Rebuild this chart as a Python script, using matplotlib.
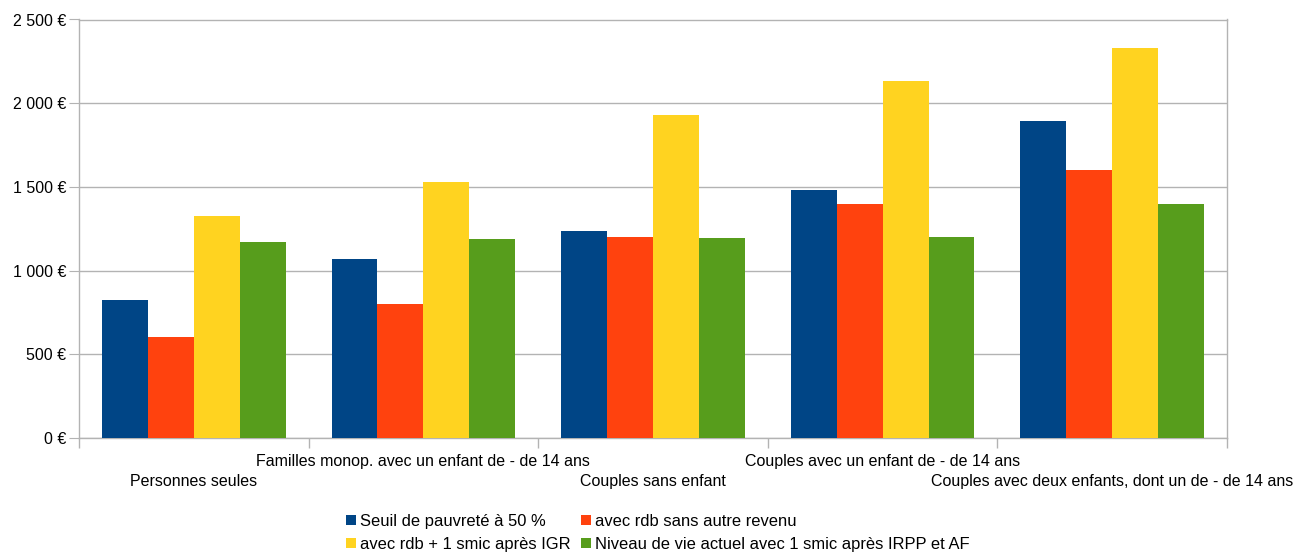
import matplotlib
matplotlib.use("Agg")
import matplotlib.pyplot as plt
from matplotlib.lines import Line2D
import numpy as np

categories = ["Personnes seules",
              "Familles monop. avec un enfant de - de 14 ans",
              "Couples sans enfant",
              "Couples avec un enfant de - de 14 ans",
              "Couples avec deux enfants, dont un de - de 14 ans"]
series_names = ["Seuil de pauvreté à 50 %",
                "avec rdb sans autre revenu",
                "avec rdb + 1 smic après IGR",
                "Niveau de vie actuel avec 1 smic après IRPP et AF"]
seuil = [824, 1069, 1237, 1481, 1894]
rdb_seul = [603, 800, 1201, 1398, 1601]
rdb_smic = [1326, 1529, 1930, 2133, 2330]
niveau_actuel = [1171, 1189, 1195, 1201, 1398]
yticks = [0, 500, 1000, 1500, 2000, 2500]
ytick_labels = ["0 €", "500 €", "1 000 €", "1 500 €", "2 000 €", "2 500 €"]
colors = ["#004586", "#ff420e", "#ffd320", "#579d1c"]

plt.rcParams['font.family'] = ['Liberation Sans', 'DejaVu Sans']
fig = plt.figure(figsize=(12.99, 5.54), dpi=100)
ax = fig.add_axes([79/1299, 1-438/554, (1227-79)/1299, (438-19.5)/554])

x = np.arange(len(categories))
w = 0.2
data = [seuil, rdb_seul, rdb_smic, niveau_actuel]
for i, (vals, c) in enumerate(zip(data, colors)):
    ax.bar(x + (i - 1.5) * w, vals, width=w, color=c, zorder=3, linewidth=0)

ax.set_xlim(-0.5, len(categories) - 0.5)
ax.set_ylim(0, 2500)
ax.set_yticks(yticks)
ax.set_yticklabels(ytick_labels, fontsize=11.5, color="#000000")
ax.yaxis.grid(True, color="#b3b3b3", linewidth=1, zorder=0)
ax.tick_params(axis='y', length=7, color="#b3b3b3", pad=2)

# category boundary ticks, staggered category labels
ax.set_xticks(np.arange(-0.5, len(categories)))
ax.set_xticklabels([])
ax.tick_params(axis='x', length=7, color="#b3b3b3", width=1)
for i, c in enumerate(categories):
    off = -31 if i % 2 == 0 else -16.6
    ax.annotate(c, xy=(x[i], 0), xycoords=('data', 'axes fraction'),
                xytext=(0, off), textcoords='offset points',
                ha='center', va='center', fontsize=11.5, annotation_clip=False)

for s in ax.spines.values():
    s.set_color("#b3b3b3")
    s.set_linewidth(1)

handles = [Line2D([0], [0], marker='s', linestyle='None', markersize=7.5,
                  markerfacecolor=c, markeredgewidth=0) for c in colors]
order = [0, 2, 1, 3]  # row-major display in a 2-column legend
leg = fig.legend([handles[k] for k in order], [series_names[k] for k in order],
                 loc='center', ncol=2,
                 bbox_to_anchor=(658/1299, 1-533/554), frameon=False,
                 fontsize=11.9, handlelength=0.6, handletextpad=0.25,
                 columnspacing=0.6, labelspacing=0.5, borderpad=0)

fig.savefig("out.png", dpi=100)
